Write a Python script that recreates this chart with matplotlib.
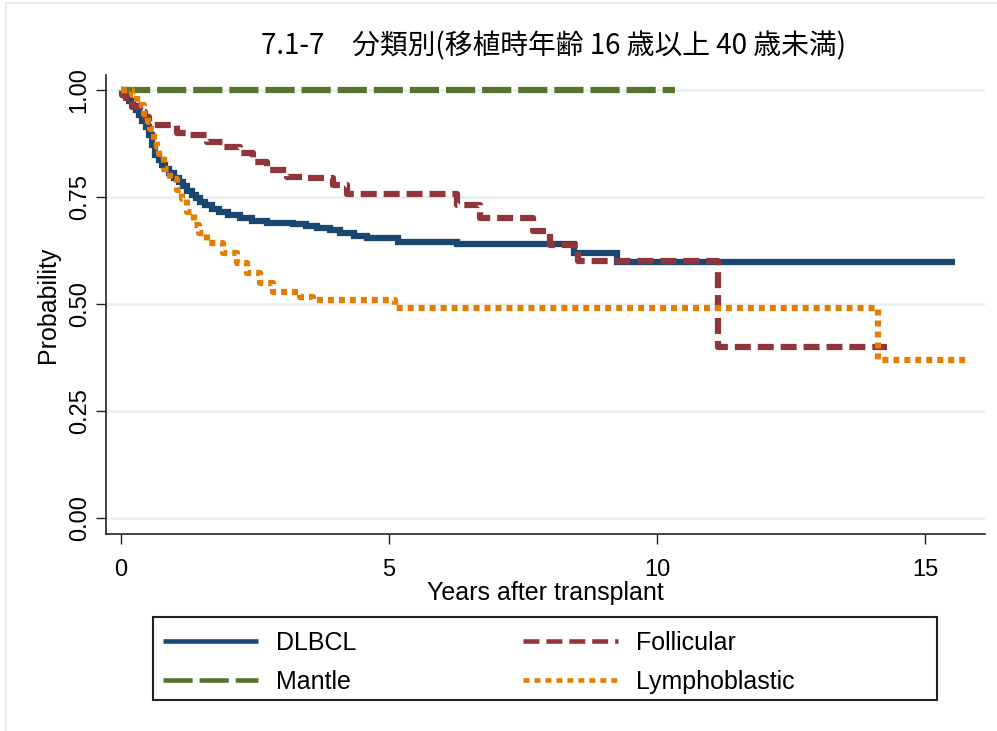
import matplotlib
matplotlib.use('Agg')
import matplotlib.pyplot as plt
from matplotlib.patches import Rectangle

plt.rcParams['font.family'] = ['Liberation Sans', 'DejaVu Sans']
plt.rcParams['lines.scale_dashes'] = False

# step curves (time in years, survival probability)
dlbcl_t = [0, 0.03, 0.07, 0.15, 0.22, 0.28, 0.34, 0.40, 0.46, 0.52, 0.58, 0.63, 0.70, 0.76,
           0.82, 0.90, 0.98, 1.08, 1.16, 1.24, 1.32, 1.40, 1.48, 1.57, 1.70, 1.83, 2.0, 2.22,
           2.45, 2.72, 3.21, 3.45, 3.66, 3.9, 4.09, 4.35, 4.59, 5.17, 6.27, 8.45, 9.25, 15.56]
dlbcl_s = [1.0, 0.995, 0.988, 0.975, 0.962, 0.952, 0.942, 0.928, 0.913, 0.895, 0.872, 0.848,
           0.836, 0.825, 0.815, 0.805, 0.795, 0.785, 0.775, 0.765, 0.755, 0.747, 0.739, 0.731,
           0.722, 0.715, 0.708, 0.701, 0.695, 0.689, 0.687, 0.683, 0.678, 0.672, 0.666, 0.660,
           0.654, 0.645, 0.640, 0.620, 0.597, 0.597]

foll_t = [0, 0.02, 0.1, 0.2, 0.35, 0.45, 0.52, 0.6, 1.04, 1.29, 1.6, 1.9, 2.22, 2.47, 2.72,
          3.1, 3.47, 3.96, 4.22, 6.27, 6.7, 7.69, 8.0, 8.53, 11.14, 14.29]
foll_s = [1.0, 0.988, 0.975, 0.96, 0.949, 0.937, 0.925, 0.918, 0.9, 0.895, 0.878, 0.867,
          0.853, 0.832, 0.813, 0.797, 0.794, 0.778, 0.757, 0.731, 0.70, 0.670, 0.638, 0.601,
          0.400, 0.400]

mantle_t = [0, 10.34]
mantle_s = [1.0, 1.0]

lymph_t = [0, 0.2, 0.3, 0.43, 0.5, 0.54, 0.62, 0.67, 0.71, 0.8, 0.91, 1.04, 1.14, 1.23, 1.36,
           1.45, 1.6, 1.9, 2.16, 2.35, 2.59, 2.84, 3.34, 3.58, 5.11, 14.12, 15.84]
lymph_s = [1.0, 0.988, 0.965, 0.944, 0.925, 0.909, 0.883, 0.866, 0.85, 0.815, 0.792, 0.766,
           0.745, 0.715, 0.685, 0.665, 0.643, 0.619, 0.596, 0.572, 0.549, 0.528, 0.516, 0.509,
           0.490, 0.369, 0.369]

y_ticks = [0, 0.25, 0.5, 0.75, 1.0]
y_labels = ['0.00', '0.25', '0.50', '0.75', '1.00']
x_ticks = [0, 5, 10, 15]

fig = plt.figure(figsize=(9.97, 7.31), dpi=100)
fig.patches.append(Rectangle((0.006, -0.01), 1.1, 1.006, transform=fig.transFigure,
                             fill=False, edgecolor='#e6eef2', linewidth=1.5))
ax = fig.add_axes([0.1063, 0.2695, 0.8817, 0.628])

for y in y_ticks:
    ax.axhline(y, color='#eaf0f2', linewidth=2, zorder=0)

lw = 4.5
l_dlbcl, = ax.step(dlbcl_t, dlbcl_s, where='post', color='#1a476f', linewidth=lw,
                   solid_capstyle='butt', solid_joinstyle='miter')
l_foll, = ax.step(foll_t, foll_s, where='post', color='#90353b', linewidth=lw,
                  dashes=(11.5, 5), dash_capstyle='butt')
l_mantle, = ax.step(mantle_t, mantle_s, where='post', color='#55752f', linewidth=lw,
                    dashes=(21, 5), dash_capstyle='butt')
l_lymph, = ax.step(lymph_t, lymph_s, where='post', color='#e37e00', linewidth=lw,
                   dashes=(4.3, 3.6), dash_capstyle='butt')

ax.set_xlim(-0.28, 16.12)
ax.set_ylim(-0.037, 1.035)
ax.set_xticks(x_ticks)
ax.set_yticks(y_ticks)
ax.set_yticklabels(y_labels, rotation=90, va='center')
ax.tick_params(length=7, width=1, labelsize=17, color='#222222')
ax.tick_params(axis='x', pad=11)
ax.tick_params(axis='y', pad=4)
for s in ['top', 'right']:
    ax.spines[s].set_visible(False)
for s in ['left', 'bottom']:
    ax.spines[s].set_linewidth(1.2)
    ax.spines[s].set_color('#222222')

ax.set_xlabel('Years after transplant', fontsize=18, labelpad=0)
ax.set_ylabel('Probability', fontsize=18, labelpad=6)

fig.text(0.555, 0.936, '7.1-7\u3000分類別(移植時年齢 16 歳以上 40 歳未満)', ha='center',
         va='center', fontsize=20, family=['Noto Sans CJK JP', 'DejaVu Sans'])

# legend frame drawn separately, entries placed inside it
fig.patches.append(Rectangle((0.1535, 0.0424), 0.7864, 0.1135, transform=fig.transFigure,
                             fill=False, edgecolor='#222222', linewidth=1.5))
handles = [l_dlbcl, l_mantle, l_foll, l_lymph]
labels = ['DLBCL', 'Mantle', 'Follicular', 'Lymphoblastic']
leg = fig.legend(handles, labels, loc='upper left', bbox_to_anchor=(0.1635, 0.137),
                 ncol=2, fontsize=18, handlelength=3.8, handletextpad=0.7,
                 columnspacing=6.7, labelspacing=0.6, borderpad=0, borderaxespad=0,
                 frameon=False)
for line in leg.get_lines():
    line.set_linewidth(3.3)

fig.savefig('out.png', dpi=100, facecolor='white')
